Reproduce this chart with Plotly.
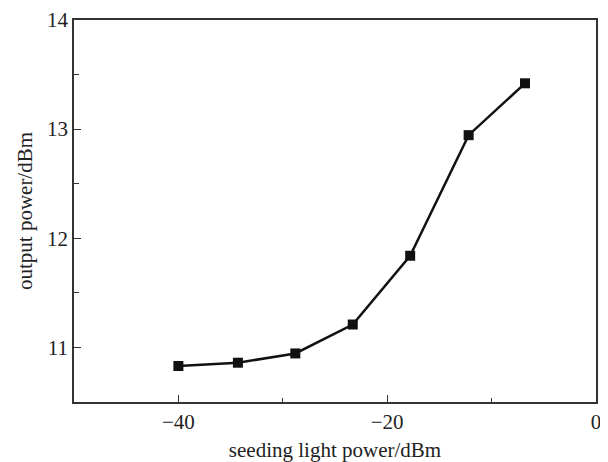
import plotly.graph_objects as go

seed_power = [-40, -34.3, -28.8, -23.3, -17.8, -12.2, -6.8]
output_power = [10.83, 10.86, 10.945, 11.21, 11.84, 12.945, 13.42]

x_ticks = [-40, -20, 0]
y_ticks = [11, 12, 13, 14]

font_family = "Liberation Serif"
text_color = "#222222"

fig = go.Figure()
fig.add_trace(go.Scatter(
    x=seed_power, y=output_power, mode="lines+markers",
    line=dict(color="#111111", width=2.5),
    marker=dict(symbol="square", size=10, color="#111111"),
    showlegend=False,
))

axis_common = dict(
    showline=True, linecolor="#333333", linewidth=1.5, mirror=True,
    ticks="inside", ticklen=7, tickwidth=1.2, tickcolor="#333333",
    showgrid=False, zeroline=False, automargin=False,
    tickfont=dict(family=font_family, size=21, color=text_color),
)

fig.update_xaxes(
    range=[-50, 0], tickvals=x_ticks,
    minor=dict(dtick=10, tick0=0, ticks="inside", ticklen=4, tickwidth=1.2, tickcolor="#333333"),
    title=dict(text="seeding light power/dBm", font=dict(family=font_family, size=21, color=text_color), standoff=13),
    **axis_common,
)
fig.update_yaxes(
    range=[10.5, 14], tickvals=y_ticks,
    minor=dict(dtick=0.5, tick0=0, ticks="inside", ticklen=5, tickwidth=1.2, tickcolor="#333333"),
    title=dict(text="output power/dBm", font=dict(family=font_family, size=21, color=text_color), standoff=9),
    **axis_common,
)

# page body adds an 8px offset; figure sized to compensate
fig.update_layout(
    width=600, height=454,
    margin=dict(l=66, r=12, t=12, b=60),
    plot_bgcolor="white", paper_bgcolor="white",
)

fig.write_html("out.html")
